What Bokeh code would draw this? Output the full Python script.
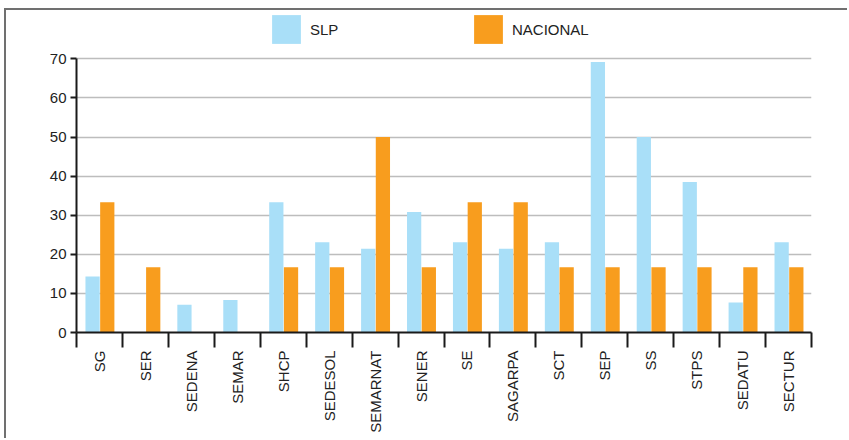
from bokeh.plotting import figure
from bokeh.models import Range1d, FixedTicker, Legend, LegendItem, ColumnDataSource
from bokeh.embed import file_html
from bokeh.resources import INLINE

categories = ["SG", "SER", "SEDENA", "SEMAR", "SHCP", "SEDESOL", "SEMARNAT", "SENER",
              "SE", "SAGARPA", "SCT", "SEP", "SS", "STPS", "SEDATU", "SECTUR"]
slp = [14.3, 0, 7.1, 8.3, 33.3, 23.1, 21.4, 30.8, 23.1, 21.4, 23.1, 69.2, 50.0, 38.5, 7.7, 23.1]
nacional = [33.3, 16.7, 0, 0, 16.7, 16.7, 50.0, 16.7, 33.3, 33.3, 16.7, 16.7, 16.7, 16.7, 16.7, 16.7]
y_ticks = [0, 10, 20, 30, 40, 50, 60, 70]
series_names = ["SLP", "NACIONAL"]

FONT = "Liberation Sans"
C_SLP = "#a9dff8"
C_NAC = "#f89d1e"

idx = list(range(len(categories)))
src = ColumnDataSource(dict(
    x_slp=[i + 0.35 for i in idx],
    x_nac=[i + 0.67 for i in idx],
    slp=slp, nac=nacional,
))

# frame spans 320px; 70 units occupy 272px -> headroom for the legend
y_top = 70 * 320 / 272.0

p = figure(width=843, height=430, output_backend="svg", toolbar_location=None,
           x_range=Range1d(0, len(categories)), y_range=Range1d(0, y_top),
           min_border_left=70, min_border_right=38, min_border_top=0, min_border_bottom=108)
p.styles = {"border-left": "2px solid #707070", "border-top": "2px solid #707070",
            "margin-left": "4px", "margin-top": "8px"}
p.outline_line_color = None
p.background_fill_color = "white"
p.border_fill_color = "white"

r1 = p.vbar(x="x_slp", top="slp", width=0.31, source=src, fill_color=C_SLP, line_color=None)
r2 = p.vbar(x="x_nac", top="nac", width=0.31, source=src, fill_color=C_NAC, line_color=None)

# x axis
p.xaxis.ticker = FixedTicker(ticks=[i + 0.5 for i in idx], minor_ticks=list(range(len(categories) + 1)))
p.xaxis.major_label_overrides = {i + 0.5: c for i, c in zip(idx, categories)}
p.xaxis.major_label_orientation = 1.5708
p.xaxis.major_tick_out = 0
p.xaxis.major_tick_in = 0
p.xaxis.minor_tick_out = 15
p.xaxis.minor_tick_in = 0
p.xaxis.minor_tick_line_width = 2
p.xaxis.minor_tick_line_color = "#1a1a1a"
p.xaxis.axis_line_width = 2
p.xaxis.axis_line_color = "#1a1a1a"
p.xaxis.major_label_standoff = 3
p.xaxis.major_label_text_font = FONT
p.xaxis.major_label_text_font_size = "15px"
p.xaxis.major_label_text_color = "#222222"

# y axis
p.yaxis.ticker = FixedTicker(ticks=y_ticks)
p.yaxis.bounds = (y_ticks[0], y_ticks[-1])
p.yaxis.axis_line_width = 2
p.yaxis.axis_line_color = "#1a1a1a"
p.yaxis.major_tick_out = 6
p.yaxis.major_tick_in = 0
p.yaxis.major_tick_line_width = 2
p.yaxis.major_tick_line_color = "#1a1a1a"
p.yaxis.minor_tick_line_color = None
p.yaxis.major_label_standoff = 4
p.yaxis.major_label_text_font = FONT
p.yaxis.major_label_text_font_size = "15px"
p.yaxis.major_label_text_color = "#222222"

p.xgrid.visible = False
p.ygrid.grid_line_color = "#bdbdbd"
p.ygrid.grid_line_width = 1.5

legend = Legend(items=[LegendItem(label=series_names[0], renderers=[r1]),
                       LegendItem(label=series_names[1], renderers=[r2])],
                orientation="horizontal", location=(192, 285),
                glyph_width=36, glyph_height=36, label_standoff=6,
                label_width=160, spacing=0, padding=0, margin=0,
                border_line_color=None, background_fill_alpha=0,
                label_text_font=FONT, label_text_font_size="15px",
                label_text_color="#222222", label_height=36)
p.add_layout(legend, "center")

open("out.html", "w").write(file_html(p, INLINE))
